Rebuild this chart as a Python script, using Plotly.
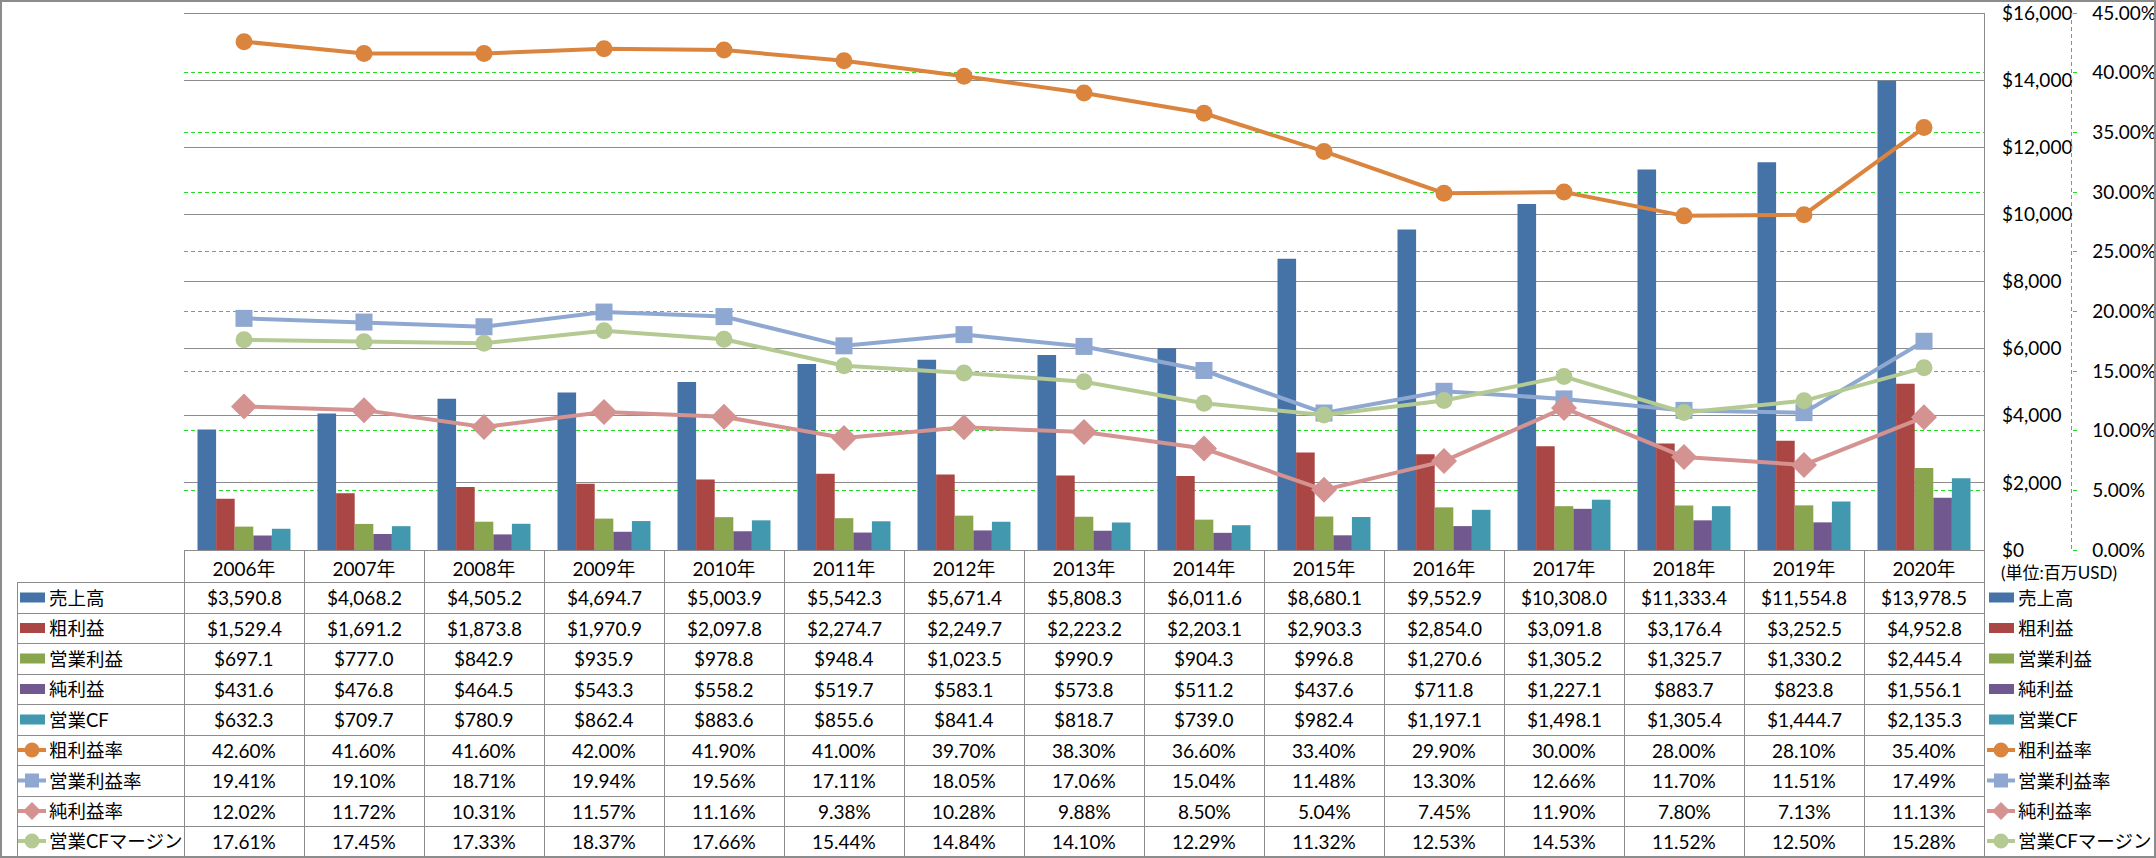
import plotly.graph_objects as go

# ---------------- data ----------------
years = ["2006年", "2007年", "2008年", "2009年", "2010年", "2011年", "2012年", "2013年",
         "2014年", "2015年", "2016年", "2017年", "2018年", "2019年", "2020年"]

revenue = [3590.8, 4068.2, 4505.2, 4694.7, 5003.9, 5542.3, 5671.4, 5808.3,
           6011.6, 8680.1, 9552.9, 10308.0, 11333.4, 11554.8, 13978.5]
gross_profit = [1529.4, 1691.2, 1873.8, 1970.9, 2097.8, 2274.7, 2249.7, 2223.2,
                2203.1, 2903.3, 2854.0, 3091.8, 3176.4, 3252.5, 4952.8]
operating_income = [697.1, 777.0, 842.9, 935.9, 978.8, 948.4, 1023.5, 990.9,
                    904.3, 996.8, 1270.6, 1305.2, 1325.7, 1330.2, 2445.4]
net_income = [431.6, 476.8, 464.5, 543.3, 558.2, 519.7, 583.1, 573.8,
              511.2, 437.6, 711.8, 1227.1, 883.7, 823.8, 1556.1]
operating_cf = [632.3, 709.7, 780.9, 862.4, 883.6, 855.6, 841.4, 818.7,
                739.0, 982.4, 1197.1, 1498.1, 1305.4, 1444.7, 2135.3]

gross_margin = [42.60, 41.60, 41.60, 42.00, 41.90, 41.00, 39.70, 38.30,
                36.60, 33.40, 29.90, 30.00, 28.00, 28.10, 35.40]
operating_margin = [19.41, 19.10, 18.71, 19.94, 19.56, 17.11, 18.05, 17.06,
                    15.04, 11.48, 13.30, 12.66, 11.70, 11.51, 17.49]
net_margin = [12.02, 11.72, 10.31, 11.57, 11.16, 9.38, 10.28, 9.88,
              8.50, 5.04, 7.45, 11.90, 7.80, 7.13, 11.13]
cf_margin = [17.61, 17.45, 17.33, 18.37, 17.66, 15.44, 14.84, 14.10,
             12.29, 11.32, 12.53, 14.53, 11.52, 12.50, 15.28]

bar_names = ["売上高", "粗利益", "営業利益", "純利益", "営業CF"]
bar_values = [revenue, gross_profit, operating_income, net_income, operating_cf]
bar_colors = ["#4572A7", "#AA4643", "#89A54E", "#71588F", "#4198AF"]

line_names = ["粗利益率", "営業利益率", "純利益率", "営業CFマージン"]
line_values = [gross_margin, operating_margin, net_margin, cf_margin]
line_colors = ["#DB843D", "#8FA8D1", "#D49290", "#B5CA92"]
line_symbols = ["circle", "square", "diamond", "circle"]
line_marker_sizes = [17, 17, 20, 17]

unit_label = "(単位:百万USD)"

# ---------------- layout helpers ----------------
W, H = 2156, 858
FONT = "Lato, 'Noto Sans CJK JP', sans-serif"
GRAY = "#8c8c8c"
GREEN = "#22dd22"
PLOT_L, PLOT_R, PLOT_T, PLOT_B = 184, 1984, 13, 550
COL_W = (PLOT_R - PLOT_L) / len(years)
ROW_LINES = [582, 613, 643, 674, 704, 735, 765, 796, 826, 856]
TABLE_L = 17
NUM_SIZE = 19
LABEL_SIZE = 18.5


def fx(p):
    return p / W


def fy(p):
    return 1 - p / H


fig = go.Figure()

for name, vals, col in zip(bar_names, bar_values, bar_colors):
    fig.add_trace(go.Bar(x=years, y=vals, name=name, marker_color=col,
                         marker_line_width=0, yaxis="y"))

for name, vals, col, sym, ms in zip(line_names, line_values, line_colors,
                                    line_symbols, line_marker_sizes):
    fig.add_trace(go.Scatter(x=years, y=vals, name=name, yaxis="y2",
                             mode="lines+markers",
                             line=dict(color=col, width=4),
                             marker=dict(symbol=sym, size=ms, color=col,
                                         line=dict(width=0))))

shapes = []


def hline(y, x0, x1, color=GRAY, width=1, dash="solid"):
    shapes.append(dict(type="line", xref="paper", yref="paper",
                       x0=fx(x0), x1=fx(x1), y0=fy(y), y1=fy(y),
                       line=dict(color=color, width=width, dash=dash), layer="above"))


def vline(x, y0, y1, color=GRAY, width=1, dash="solid"):
    shapes.append(dict(type="line", xref="paper", yref="paper",
                       x0=fx(x), x1=fx(x), y0=fy(y0), y1=fy(y1),
                       line=dict(color=color, width=width, dash=dash), layer="above"))


# outer frame
shapes.append(dict(type="rect", xref="paper", yref="paper",
                   x0=fx(1), x1=fx(W - 1), y0=fy(1), y1=fy(H - 1),
                   line=dict(color=GRAY, width=2), layer="above"))
# plot top & right border
hline(PLOT_T + 0.5, PLOT_L, PLOT_R)
vline(PLOT_R + 0.5, PLOT_T, H - 2)
# percent axis dashed line
vline(2071.5, PLOT_T, PLOT_B, color=GREEN, width=1, dash="4px,3px")

# table grid
for y in ROW_LINES[:-1]:
    hline(y + 0.5, TABLE_L, PLOT_R)
vline(TABLE_L + 0.5, ROW_LINES[0], H - 2)
for k in range(len(years)):
    vline(PLOT_L + k * COL_W + 0.5, PLOT_B, H - 2)

annotations = []
row_centers = [(ROW_LINES[i] + ROW_LINES[i + 1]) / 2 for i in range(len(ROW_LINES) - 1)]

all_names = bar_names + line_names
all_values = bar_values + line_values
for r, (name, vals) in enumerate(zip(all_names, all_values)):
    yc = row_centers[r]
    for yr, v in zip(years, vals):
        txt = f"${v:,.1f}" if r < len(bar_names) else f"{v:.2f}%"
        annotations.append(dict(x=yr, xref="x", y=fy(yc), yref="paper",
                                text=txt, showarrow=False,
                                font=dict(family=FONT, size=NUM_SIZE, color="#000"),
                                xanchor="center", yanchor="middle"))
    for lx, tx in ((32, 47), (2001, 2016)):
        annotations.append(dict(x=fx(tx), xref="paper", y=fy(yc), yref="paper",
                                text=name, showarrow=False,
                                font=dict(family=FONT, size=LABEL_SIZE, color="#000"),
                                xanchor="left", yanchor="middle"))
        if r < len(bar_names):
            shapes.append(dict(type="rect", xref="paper", yref="paper",
                               x0=fx(lx - 12), x1=fx(lx + 13),
                               y0=fy(yc - 5), y1=fy(yc + 5),
                               fillcolor=bar_colors[r], line=dict(width=0), layer="above"))
        else:
            i = r - len(bar_names)
            col = line_colors[i]
            shapes.append(dict(type="line", xref="paper", yref="paper",
                               x0=fx(lx - 14), x1=fx(lx + 14), y0=fy(yc), y1=fy(yc),
                               line=dict(color=col, width=4), layer="above"))
            sym = line_symbols[i]
            if sym == "circle":
                shapes.append(dict(type="circle", xref="paper", yref="paper",
                                   x0=fx(lx - 7.5), x1=fx(lx + 7.5),
                                   y0=fy(yc - 7.5), y1=fy(yc + 7.5),
                                   fillcolor=col, line=dict(width=0), layer="above"))
            elif sym == "square":
                shapes.append(dict(type="rect", xref="paper", yref="paper",
                                   x0=fx(lx - 7), x1=fx(lx + 7),
                                   y0=fy(yc - 7), y1=fy(yc + 7),
                                   fillcolor=col, line=dict(width=0), layer="above"))
            else:
                d = 9
                path = (f"M {fx(lx - d)} {fy(yc)} L {fx(lx)} {fy(yc - d)} "
                        f"L {fx(lx + d)} {fy(yc)} L {fx(lx)} {fy(yc + d)} Z")
                shapes.append(dict(type="path", xref="paper", yref="paper", path=path,
                                   fillcolor=col, line=dict(width=0), layer="above"))

annotations.append(dict(x=fx(1999), xref="paper", y=fy(572), yref="paper",
                        text=unit_label, showarrow=False,
                        font=dict(family=FONT, size=17, color="#000"),
                        xanchor="left", yanchor="middle"))

fig.update_layout(
    width=W, height=H,
    margin=dict(l=0, r=0, t=0, b=0, pad=0, autoexpand=False),
    paper_bgcolor="white", plot_bgcolor="white",
    showlegend=False,
    barmode="group", bargap=0.225, bargroupgap=0,
    font=dict(family=FONT, size=18, color="#000"),
    xaxis=dict(domain=[fx(PLOT_L), fx(PLOT_R)], type="category",
               range=[-0.5, len(years) - 0.5], autorange=False, automargin=False,
               showline=True, linecolor=GRAY, linewidth=1, ticks="",
               showgrid=False, zeroline=False,
               tickfont=dict(family=FONT, size=NUM_SIZE, color="#000"),
               ticklabelstandoff=2),
    yaxis=dict(domain=[fy(PLOT_B), fy(PLOT_T)], range=[0, 16000], dtick=2000,
               autorange=False, automargin=False,
               side="right", showgrid=True, gridcolor=GRAY, gridwidth=1,
               zeroline=False, showline=False, ticks="",
               tickprefix="$", tickformat=",d",
               tickfont=dict(family=FONT, size=NUM_SIZE, color="#000"),
               ticklabelstandoff=17),
    yaxis2=dict(overlaying="y", side="right", anchor="free", position=fx(2071.5),
                range=[0, 45], dtick=5, tickformat=".2f", ticksuffix="%",
                autorange=False, automargin=False,
                showgrid=True, gridcolor=GREEN, gridwidth=1, griddash="4px,3px",
                zeroline=False, showline=False, ticks="outside", ticklen=4,
                tickcolor=GREEN, tickfont=dict(family=FONT, size=NUM_SIZE, color="#000"),
                ticklabelstandoff=12),
    shapes=shapes,
    annotations=annotations,
)

fig.write_html("out.html", config={"displayModeBar": False},
               post_script="document.body.style.margin='0';")
